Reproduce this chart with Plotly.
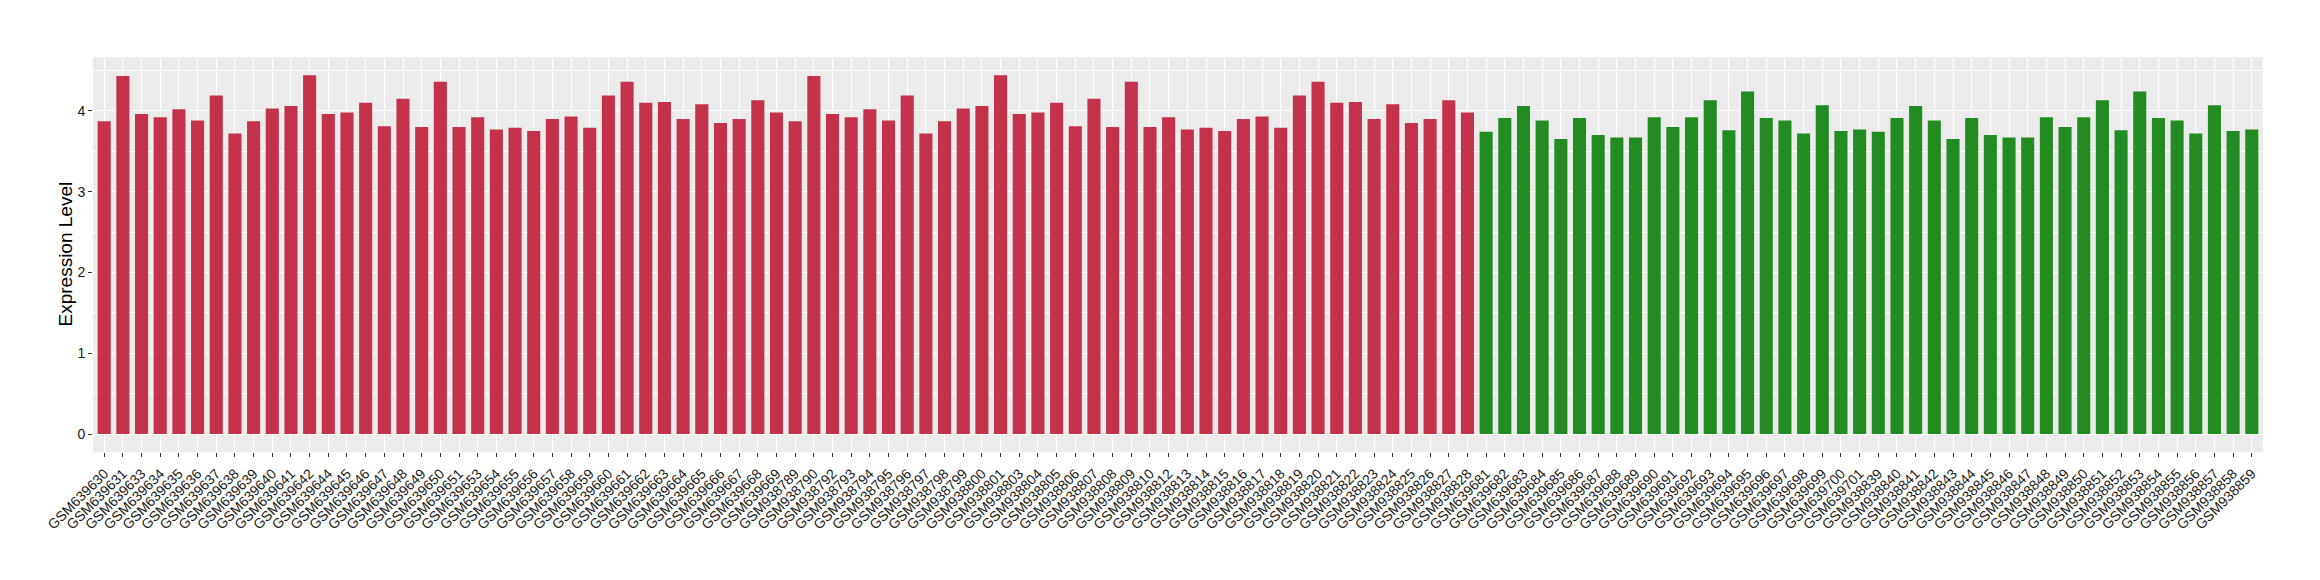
import plotly.graph_objects as go

# sample ids, grouped as in the source chart
red_ids = (
    [f"GSM6396{n}" for n in [30, 31, 33, 34, 35, 36, 37, 38, 39, 40, 41, 42, 44, 45, 46, 47, 48, 49,
                             50, 51, 53, 54, 55, 56, 57, 58, 59, 60, 61, 62, 63, 64, 65, 66, 67, 68, 69]]
    + [f"GSM938{n}" for n in [789, 790, 792, 793, 794, 795, 796, 797, 798, 799, 800, 801, 803, 804,
                              805, 806, 807, 808, 809, 810, 812, 813, 814, 815, 816, 817, 818, 819,
                              820, 821, 822, 823, 824, 825, 826, 827, 828]]
)
green_ids = (
    [f"GSM639{n}" for n in range(681, 702)]
    + [f"GSM938{n}" for n in range(839, 860)]
)

red_a = [3.87, 4.43, 3.96, 3.92, 4.02, 3.88, 4.19, 3.72, 3.87, 4.03, 4.06, 4.44, 3.96, 3.98,
         4.10, 3.81, 4.15, 3.80, 4.36, 3.80, 3.92, 3.77, 3.79, 3.75, 3.90, 3.93, 3.79, 4.19,
         4.36, 4.10, 4.11, 3.90, 4.08, 3.85, 3.90, 4.13, 3.98]
red_b = [3.87, 4.43, 3.96, 3.92, 4.02, 3.88, 4.19, 3.72, 3.87, 4.03, 4.06, 4.44, 3.96, 3.98,
         4.10, 3.81, 4.15, 3.80, 4.36, 3.80, 3.92, 3.77, 3.79, 3.75, 3.90, 3.93, 3.79, 4.19,
         4.36, 4.10, 4.11, 3.90, 4.08, 3.85, 3.90, 4.13, 3.98]
green_a = [3.74, 3.91, 4.06, 3.88, 3.65, 3.91, 3.70, 3.67, 3.67, 3.92, 3.80, 3.92, 4.13, 3.76,
           4.24, 3.91, 3.88, 3.72, 4.07, 3.75, 3.77]
green_b = [3.74, 3.91, 4.06, 3.88, 3.65, 3.91, 3.70, 3.67, 3.67, 3.92, 3.80, 3.92, 4.13, 3.76,
           4.24, 3.91, 3.88, 3.72, 4.07, 3.75, 3.77]

RED = "#C3314A"
GREEN = "#228B22"
FONT = "Liberation Sans, Arial, sans-serif"

fig = go.Figure()
fig.add_trace(go.Bar(x=red_ids, y=red_a + red_b, marker_color=RED, marker_line_width=0,
                     width=0.7, showlegend=False))
fig.add_trace(go.Bar(x=green_ids, y=green_a + green_b, marker_color=GREEN, marker_line_width=0,
                     width=0.7, showlegend=False))

n = len(red_ids) + len(green_ids)
# page body keeps its default 8px margin, so the figure is 8px smaller on each axis
fig.update_layout(
    width=2312, height=572,
    margin=dict(l=85, r=57, t=49, b=128, autoexpand=False),
    paper_bgcolor="white", plot_bgcolor="#EBEBEB",
    font=dict(family=FONT, size=14, color="#1A1A1A"),
    barmode="overlay",
    xaxis=dict(
        type="category", categoryorder="array", categoryarray=red_ids + green_ids,
        range=[-0.6, n - 0.4], tickangle=-45, automargin=False,
        showgrid=True, gridcolor="white", gridwidth=1.4,
        ticks="outside", ticklen=4, tickcolor="#333333", tickwidth=1,
        ticklabelstandoff=3,
        tickfont=dict(size=14, color="#1A1A1A"), zeroline=False, showline=False,
    ),
    yaxis=dict(
        range=[-0.222, 4.666], tickvals=[0, 1, 2, 3, 4], automargin=False,
        showgrid=True, gridcolor="white", gridwidth=1.4,
        minor=dict(tickvals=[0.5, 1.5, 2.5, 3.5, 4.5], showgrid=True, gridcolor="white", gridwidth=0.7),
        ticks="outside", ticklen=4, tickcolor="#333333", tickwidth=1,
        tickfont=dict(size=14, color="#1A1A1A"), zeroline=False, showline=False,
    ),
)
fig.add_annotation(
    text="Expression Level", textangle=-90, showarrow=False,
    xref="paper", yref="paper", x=0, y=0.5, xanchor="center", yanchor="middle", xshift=-28,
    font=dict(size=19, color="black"),
)

fig.write_html("out.html")
